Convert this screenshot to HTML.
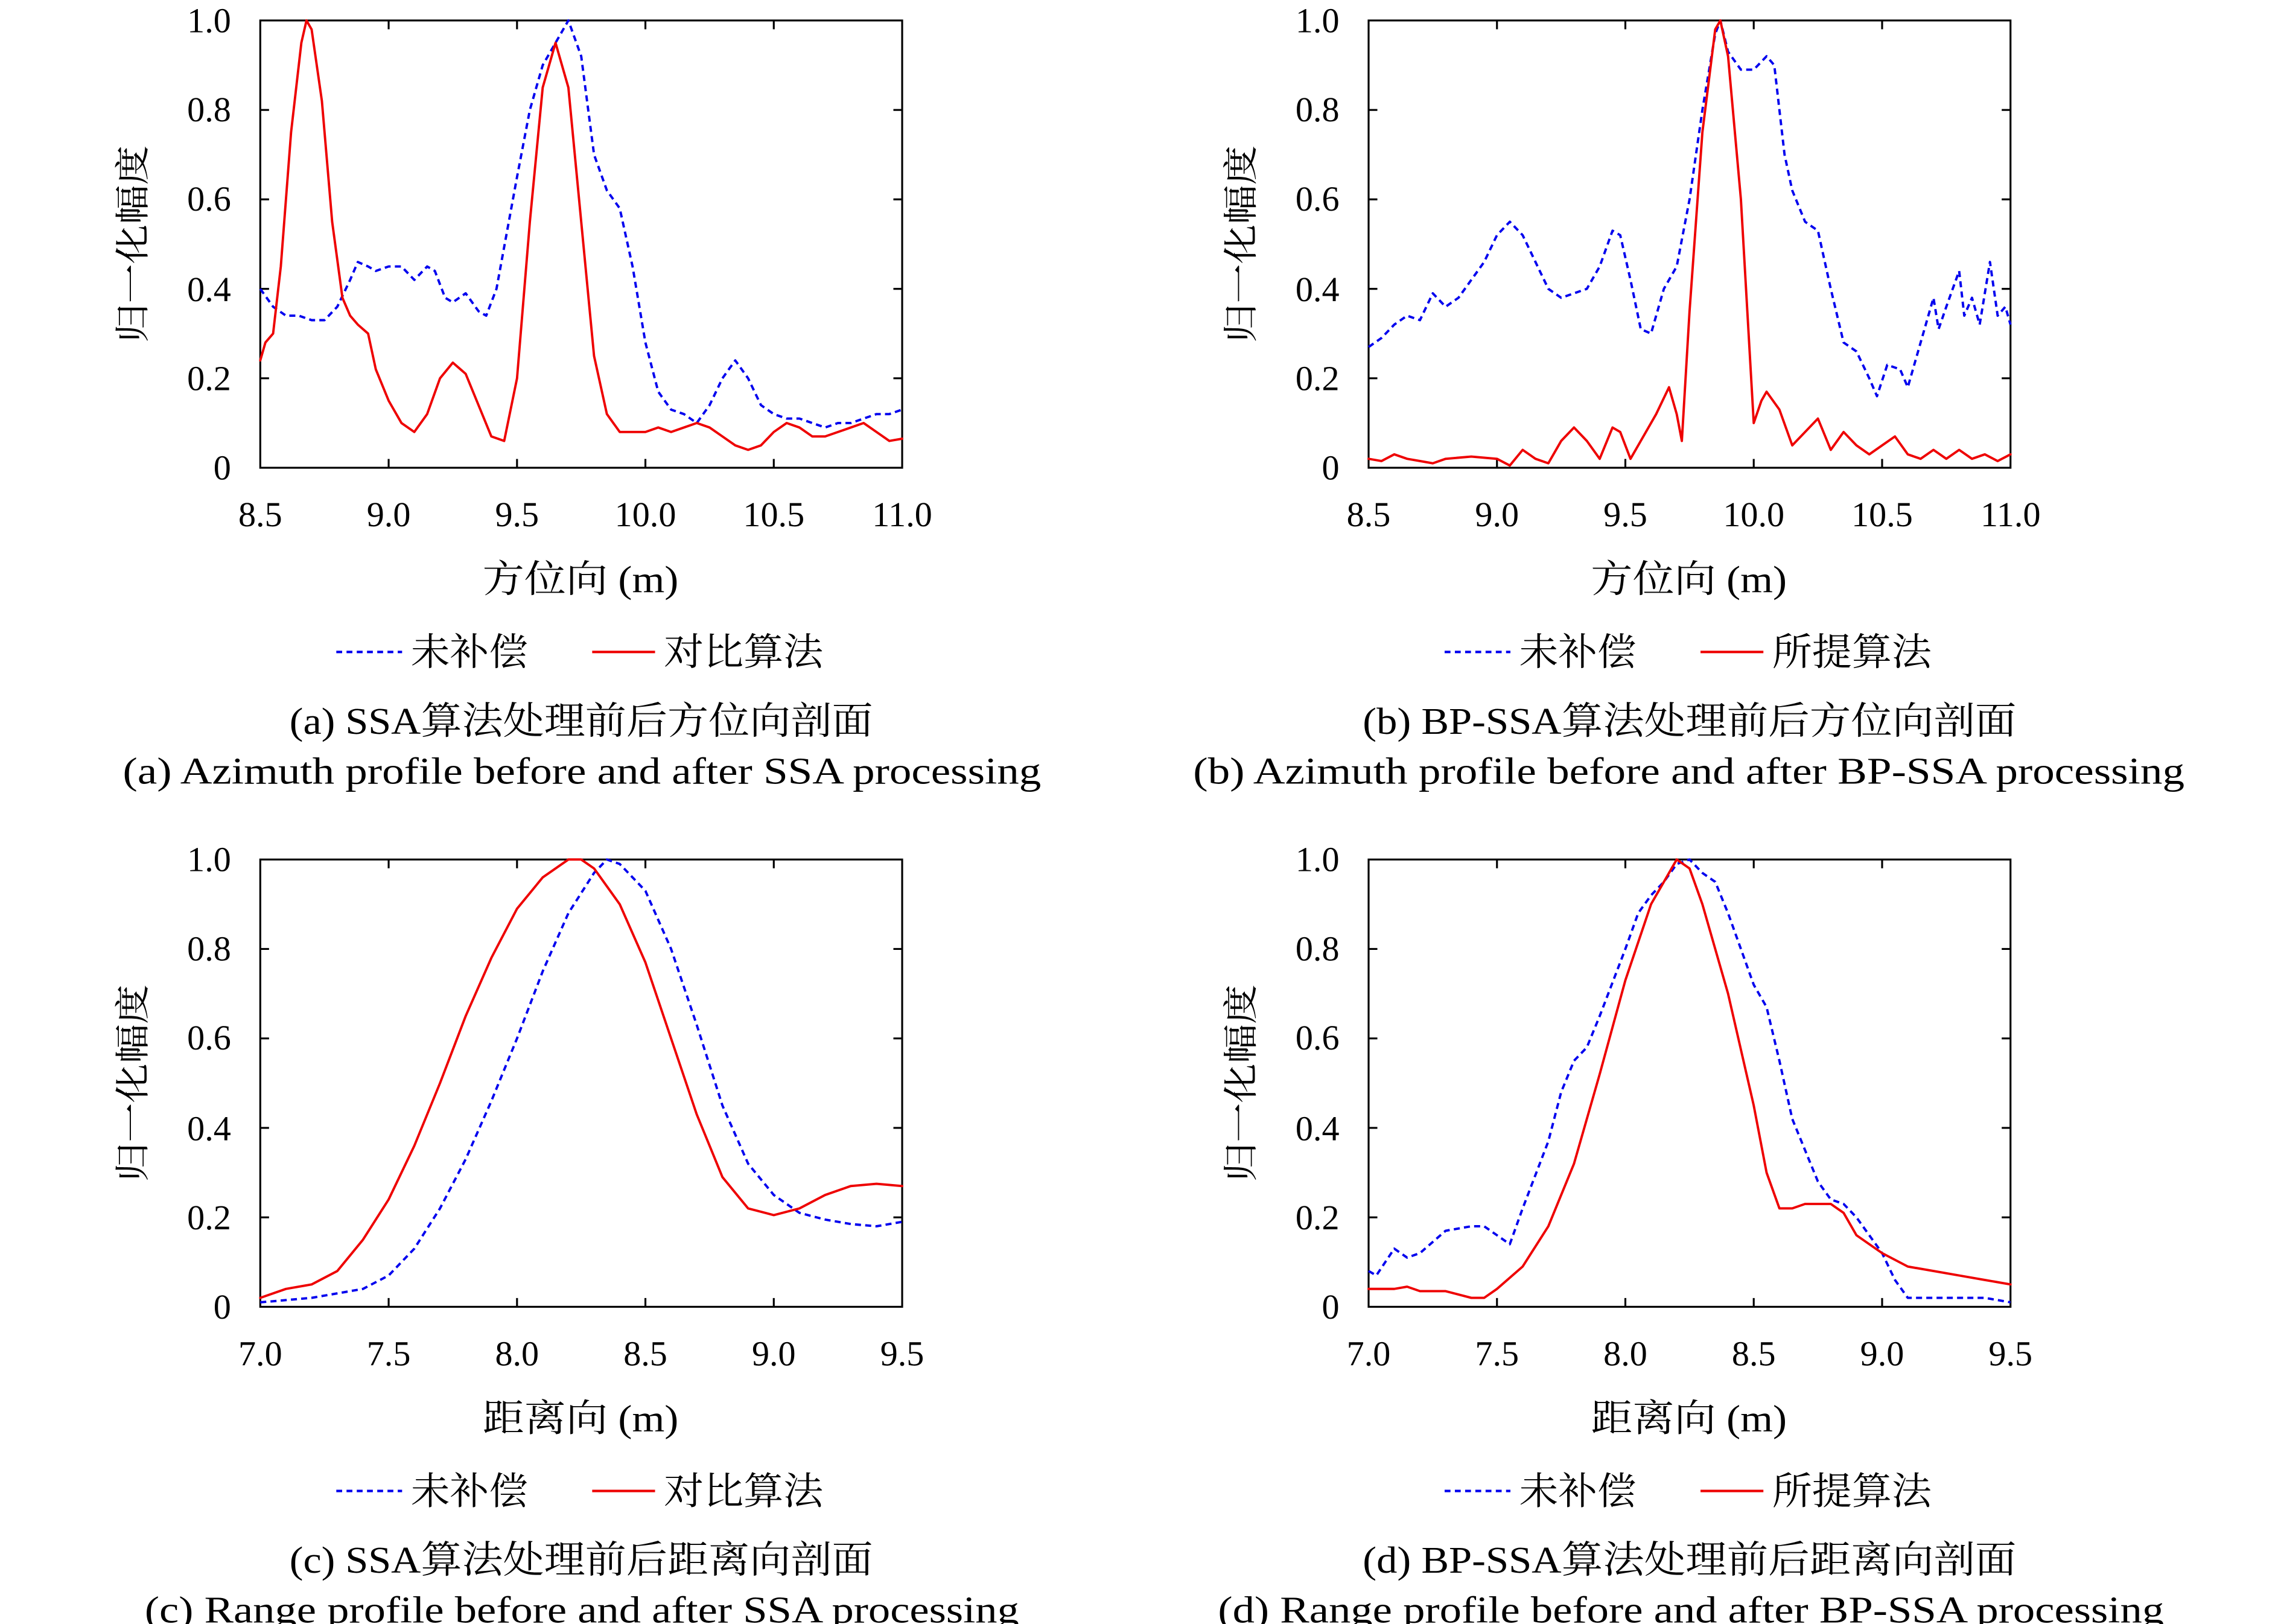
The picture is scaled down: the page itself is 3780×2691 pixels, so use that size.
<!DOCTYPE html>
<html><head><meta charset="utf-8"><style>
html,body{margin:0;padding:0;background:#fff;}
svg{display:block;}
text{font-family:"Liberation Serif","Noto Serif CJK SC",serif;fill:#000;}
.t{font-size:24px;}
.c{font-size:26px;}
.ax{fill:none;stroke:#000;stroke-width:1.3;}
.b{fill:none;stroke:#0000ee;stroke-width:3.9;stroke-dasharray:10,7;vector-effect:non-scaling-stroke;stroke-linejoin:round;}
.r{fill:none;stroke:#ee0000;stroke-width:3.9;vector-effect:non-scaling-stroke;stroke-linejoin:round;stroke-linecap:round;}
.lb{fill:none;stroke:#0000ee;stroke-width:1.7;stroke-dasharray:4,3;}
.lr{fill:none;stroke:#ee0000;stroke-width:1.7;}
</style></head><body>
<svg width="3780" height="2691" viewBox="0 0 1560 1111" preserveAspectRatio="none" xmlns="http://www.w3.org/2000/svg">
<defs>
<g id="frame">
<rect x="178" y="14" width="439" height="306" class="ax"/>
<path class="ax" d="M265.8,320v-6M353.6,320v-6M441.4,320v-6M529.2,320v-6M265.8,14v6M353.6,14v6M441.4,14v6M529.2,14v6M178,258.8h6M178,197.6h6M178,136.4h6M178,75.2h6M617,258.8h-6M617,197.6h-6M617,136.4h-6M617,75.2h-6"/>
<g class="t" text-anchor="end">
<text x="158" y="328">0</text><text x="158" y="267">0.2</text><text x="158" y="206">0.4</text><text x="158" y="144">0.6</text><text x="158" y="83">0.8</text><text x="158" y="22">1.0</text>
</g>
<text class="t" transform="translate(99,167) rotate(-90)" text-anchor="middle" textLength="135" lengthAdjust="spacingAndGlyphs">归一化幅度</text>
<path class="lb" d="M230,446h45"/><path class="lr" d="M405,446h43"/>
</g>
</defs>

<!-- panel a -->
<g>
<use href="#frame"/>
<g class="t" text-anchor="middle"><text x="178" y="360">8.5</text><text x="265.8" y="360">9.0</text><text x="353.6" y="360">9.5</text><text x="441.4" y="360">10.0</text><text x="529.2" y="360">10.5</text><text x="617" y="360">11.0</text></g>
<text class="c" x="330" y="405" textLength="134" lengthAdjust="spacingAndGlyphs">方位向 (m)</text>
<text class="c" x="281" y="455" textLength="80" lengthAdjust="spacingAndGlyphs">未补偿</text><text class="c" x="454" y="455" textLength="109" lengthAdjust="spacingAndGlyphs">对比算法</text>
<text class="c" x="198" y="502" textLength="399" lengthAdjust="spacingAndGlyphs">(a) SSA算法处理前后方位向剖面</text>
<text class="c" x="84" y="536" textLength="628" lengthAdjust="spacingAndGlyphs">(a) Azimuth profile before and after SSA processing</text>
<g transform="translate(178,320) scale(175.6,-306) translate(-8.5,0)">
<polyline class="b" points="8.5,0.40 8.55,0.36 8.6,0.34 8.65,0.34 8.7,0.33 8.75,0.33 8.8,0.36 8.85,0.42 8.88,0.46 8.92,0.45 8.95,0.44 9.0,0.45 9.05,0.45 9.1,0.42 9.15,0.45 9.18,0.44 9.22,0.38 9.25,0.37 9.3,0.39 9.35,0.35 9.38,0.34 9.42,0.40 9.5,0.65 9.55,0.80 9.6,0.90 9.65,0.95 9.7,1.0 9.75,0.92 9.8,0.7 9.85,0.62 9.9,0.58 9.95,0.45 10.0,0.28 10.05,0.17 10.1,0.13 10.15,0.12 10.2,0.10 10.25,0.14 10.3,0.20 10.35,0.24 10.4,0.20 10.45,0.14 10.5,0.12 10.55,0.11 10.6,0.11 10.65,0.10 10.7,0.09 10.75,0.10 10.8,0.10 10.85,0.11 10.9,0.12 10.95,0.12 11.0,0.13"/>
<polyline class="r" points="8.5,0.24 8.52,0.28 8.55,0.30 8.58,0.45 8.62,0.75 8.66,0.95 8.68,1.0 8.7,0.98 8.74,0.82 8.78,0.55 8.82,0.38 8.85,0.34 8.88,0.32 8.92,0.30 8.95,0.22 9.0,0.15 9.05,0.10 9.1,0.08 9.15,0.12 9.2,0.2 9.25,0.235 9.3,0.21 9.35,0.14 9.4,0.07 9.45,0.06 9.5,0.2 9.55,0.55 9.6,0.85 9.65,0.95 9.7,0.85 9.75,0.55 9.8,0.25 9.85,0.12 9.9,0.08 9.95,0.08 10.0,0.08 10.05,0.09 10.1,0.08 10.15,0.09 10.2,0.10 10.25,0.09 10.3,0.07 10.35,0.05 10.4,0.04 10.45,0.05 10.5,0.08 10.55,0.10 10.6,0.09 10.65,0.07 10.7,0.07 10.75,0.08 10.8,0.09 10.85,0.10 10.9,0.08 10.95,0.06 11.0,0.065"/>
</g>
</g>

<!-- panel b -->
<g transform="translate(758,0)">
<use href="#frame"/>
<g class="t" text-anchor="middle"><text x="178" y="360">8.5</text><text x="265.8" y="360">9.0</text><text x="353.6" y="360">9.5</text><text x="441.4" y="360">10.0</text><text x="529.2" y="360">10.5</text><text x="617" y="360">11.0</text></g>
<text class="c" x="330" y="405" textLength="134" lengthAdjust="spacingAndGlyphs">方位向 (m)</text>
<text class="c" x="281" y="455" textLength="80" lengthAdjust="spacingAndGlyphs">未补偿</text><text class="c" x="454" y="455" textLength="109" lengthAdjust="spacingAndGlyphs">所提算法</text>
<text class="c" x="174" y="502" textLength="447" lengthAdjust="spacingAndGlyphs">(b) BP-SSA算法处理前后方位向剖面</text>
<text class="c" x="58" y="536" textLength="678" lengthAdjust="spacingAndGlyphs">(b) Azimuth profile before and after BP-SSA processing</text>
<g transform="translate(178,320) scale(175.6,-306) translate(-8.5,0)">
<polyline class="b" points="8.5,0.27 8.55,0.29 8.6,0.32 8.65,0.34 8.7,0.33 8.75,0.39 8.8,0.36 8.85,0.38 8.9,0.42 8.95,0.46 9.0,0.52 9.05,0.55 9.1,0.52 9.15,0.46 9.2,0.40 9.25,0.38 9.3,0.39 9.35,0.40 9.4,0.45 9.45,0.53 9.48,0.52 9.52,0.42 9.56,0.31 9.6,0.30 9.62,0.34 9.65,0.40 9.7,0.45 9.75,0.60 9.8,0.80 9.85,0.97 9.87,1.0 9.9,0.93 9.95,0.89 10.0,0.89 10.05,0.92 10.08,0.90 10.12,0.70 10.15,0.62 10.2,0.55 10.25,0.53 10.3,0.40 10.35,0.28 10.4,0.26 10.45,0.20 10.48,0.16 10.52,0.23 10.57,0.22 10.6,0.18 10.65,0.28 10.7,0.38 10.72,0.31 10.75,0.36 10.8,0.44 10.82,0.34 10.85,0.38 10.88,0.32 10.92,0.46 10.95,0.34 10.98,0.36 11.0,0.32"/>
<polyline class="r" points="8.5,0.02 8.55,0.015 8.6,0.03 8.65,0.02 8.7,0.015 8.75,0.01 8.8,0.02 8.9,0.025 9.0,0.02 9.05,0.005 9.1,0.04 9.15,0.02 9.2,0.01 9.25,0.06 9.3,0.09 9.35,0.06 9.4,0.02 9.45,0.09 9.48,0.08 9.52,0.02 9.58,0.08 9.62,0.12 9.67,0.18 9.7,0.12 9.72,0.06 9.75,0.35 9.8,0.75 9.85,0.98 9.87,1.0 9.9,0.92 9.95,0.6 9.98,0.3 10.0,0.1 10.03,0.15 10.05,0.17 10.1,0.13 10.15,0.05 10.2,0.08 10.25,0.11 10.3,0.04 10.35,0.08 10.4,0.05 10.45,0.03 10.5,0.05 10.55,0.07 10.6,0.03 10.65,0.02 10.7,0.04 10.75,0.02 10.8,0.04 10.85,0.02 10.9,0.03 10.95,0.015 11.0,0.03"/>
</g>
</g>

<!-- panel c -->
<g transform="translate(0,574)">
<use href="#frame"/>
<g class="t" text-anchor="middle"><text x="178" y="360">7.0</text><text x="265.8" y="360">7.5</text><text x="353.6" y="360">8.0</text><text x="441.4" y="360">8.5</text><text x="529.2" y="360">9.0</text><text x="617" y="360">9.5</text></g>
<text class="c" x="330" y="405" textLength="134" lengthAdjust="spacingAndGlyphs">距离向 (m)</text>
<text class="c" x="281" y="455" textLength="80" lengthAdjust="spacingAndGlyphs">未补偿</text><text class="c" x="454" y="455" textLength="109" lengthAdjust="spacingAndGlyphs">对比算法</text>
<text class="c" x="198" y="502" textLength="399" lengthAdjust="spacingAndGlyphs">(c) SSA算法处理前后距离向剖面</text>
<text class="c" x="99" y="536" textLength="598" lengthAdjust="spacingAndGlyphs">(c) Range profile before and after SSA processing</text>
<g transform="translate(178,320) scale(175.6,-306) translate(-7,0)">
<polyline class="b" points="7.0,0.01 7.2,0.02 7.4,0.04 7.5,0.07 7.6,0.13 7.7,0.22 7.8,0.33 7.9,0.46 8.0,0.60 8.1,0.75 8.2,0.88 8.3,0.97 8.35,1.0 8.4,0.99 8.5,0.93 8.6,0.80 8.7,0.63 8.8,0.45 8.9,0.32 9.0,0.25 9.1,0.21 9.2,0.195 9.3,0.185 9.4,0.18 9.5,0.19"/>
<polyline class="r" points="7.0,0.02 7.1,0.04 7.2,0.05 7.3,0.08 7.4,0.15 7.5,0.24 7.6,0.36 7.7,0.50 7.8,0.65 7.9,0.78 8.0,0.89 8.1,0.96 8.2,1.0 8.25,1.0 8.3,0.98 8.4,0.90 8.5,0.77 8.6,0.60 8.7,0.43 8.8,0.29 8.9,0.22 9.0,0.205 9.1,0.22 9.2,0.25 9.3,0.27 9.4,0.275 9.5,0.27"/>
</g>
</g>

<!-- panel d -->
<g transform="translate(758,574)">
<use href="#frame"/>
<g class="t" text-anchor="middle"><text x="178" y="360">7.0</text><text x="265.8" y="360">7.5</text><text x="353.6" y="360">8.0</text><text x="441.4" y="360">8.5</text><text x="529.2" y="360">9.0</text><text x="617" y="360">9.5</text></g>
<text class="c" x="330" y="405" textLength="134" lengthAdjust="spacingAndGlyphs">距离向 (m)</text>
<text class="c" x="281" y="455" textLength="80" lengthAdjust="spacingAndGlyphs">未补偿</text><text class="c" x="454" y="455" textLength="109" lengthAdjust="spacingAndGlyphs">所提算法</text>
<text class="c" x="174" y="502" textLength="447" lengthAdjust="spacingAndGlyphs">(d) BP-SSA算法处理前后距离向剖面</text>
<text class="c" x="75" y="536" textLength="647" lengthAdjust="spacingAndGlyphs">(d) Range profile before and after BP-SSA processing</text>
<g transform="translate(178,320) scale(175.6,-306) translate(-7,0)">
<polyline class="b" points="7.0,0.08 7.03,0.07 7.1,0.13 7.15,0.11 7.2,0.12 7.3,0.17 7.4,0.18 7.45,0.18 7.5,0.16 7.55,0.14 7.6,0.22 7.7,0.37 7.75,0.48 7.8,0.55 7.85,0.58 7.9,0.65 8.0,0.80 8.05,0.88 8.1,0.92 8.15,0.95 8.2,0.99 8.25,1.0 8.3,0.97 8.35,0.95 8.4,0.88 8.45,0.80 8.5,0.72 8.55,0.67 8.6,0.55 8.65,0.42 8.7,0.35 8.75,0.28 8.8,0.24 8.85,0.23 8.9,0.20 8.95,0.16 9.0,0.12 9.05,0.06 9.1,0.02 9.2,0.02 9.3,0.02 9.4,0.02 9.5,0.01"/>
<polyline class="r" points="7.0,0.04 7.1,0.04 7.15,0.045 7.2,0.035 7.3,0.035 7.4,0.02 7.45,0.02 7.5,0.04 7.6,0.09 7.7,0.18 7.8,0.32 7.9,0.52 8.0,0.73 8.1,0.90 8.2,1.0 8.25,0.98 8.3,0.90 8.4,0.70 8.5,0.45 8.55,0.30 8.6,0.22 8.65,0.22 8.7,0.23 8.8,0.23 8.85,0.21 8.9,0.16 9.0,0.12 9.1,0.09 9.2,0.08 9.3,0.07 9.4,0.06 9.5,0.05"/>
</g>
</g>
</svg>
</body></html>
